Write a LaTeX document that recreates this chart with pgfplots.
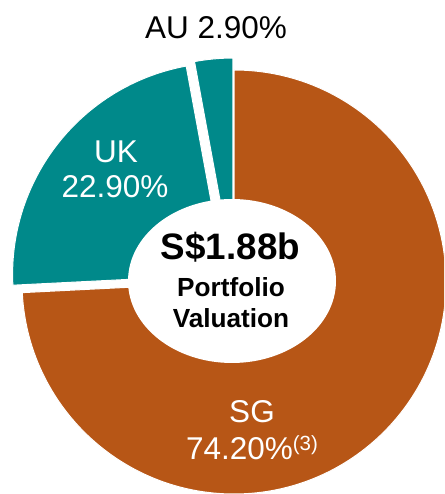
\documentclass[border=0pt]{standalone}
\usepackage{pgfplots}
\pgfplotsset{compat=1.18}
\usepackage{pgfplotstable}
\usepackage{fontspec}
\setmainfont{Liberation Sans}
\definecolor{sgc}{HTML}{B75616}
\definecolor{ukc}{HTML}{00898A}

% share in percent, explode offset in pt
\pgfplotstableread{
region share explode
SG 74.2 0
UK 22.9 12
AU 2.9 12
}\shares

\begin{document}
\begin{tikzpicture}
\pgfplotstablegetelem{0}{share}\of\shares \let\sSG\pgfplotsretval
\pgfplotstablegetelem{1}{share}\of\shares \let\sUK\pgfplotsretval
\pgfplotstablegetelem{2}{share}\of\shares \let\sAU\pgfplotsretval
\pgfplotstablegetelem{0}{explode}\of\shares \let\eSG\pgfplotsretval
\pgfplotstablegetelem{1}{explode}\of\shares \let\eUK\pgfplotsretval
\pgfplotstablegetelem{2}{explode}\of\shares \let\eAU\pgfplotsretval
\pgfmathsetmacro\aSG{90}
\pgfmathsetmacro\bSG{\aSG-3.6*\sSG}
\pgfmathsetmacro\bUK{\bSG-3.6*\sUK}
\pgfmathsetmacro\bAU{\bUK-3.6*\sAU}
\pgfmathsetmacro\mSG{(\aSG+\bSG)/2}
\pgfmathsetmacro\mUK{(\bSG+\bUK)/2}
\pgfmathsetmacro\mAU{(\bUK+\bAU)/2}
\begin{axis}[
    x=1pt, y=1pt,
    xmin=0, xmax=444, ymin=0, ymax=494,
    hide axis, clip=true,
]
\addplot[draw=none] coordinates {(0,0) (444,494)};
\fill[sgc, draw=white, line width=1pt] ([shift={(\mSG:\eSG pt)}]axis cs:234,212)
    -- ++(\aSG:212pt) arc[start angle=\aSG, end angle=\bSG, radius=212pt] -- cycle;
\fill[ukc, draw=white, line width=1pt] ([shift={(\mUK:\eUK pt)}]axis cs:234,212)
    -- ++(\bSG:212pt) arc[start angle=\bSG, end angle=\bUK, radius=212pt] -- cycle;
\fill[ukc, draw=white, line width=1pt] ([shift={(\mAU:\eAU pt)}]axis cs:234,212)
    -- ++(\bUK:212pt) arc[start angle=\bUK, end angle=\bAU, radius=212pt] -- cycle;
\fill[white] (axis cs:232,213) ellipse [x radius=104pt, y radius=82pt];

\node[anchor=base, font=\fontsize{31.5}{36}\selectfont] at (axis cs:216,455) {AU 2.90\%};
\node[anchor=base, white, font=\fontsize{31.5}{36}\selectfont] at (axis cs:116,331) {UK};
\node[anchor=base, white, font=\fontsize{31.5}{36}\selectfont] at (axis cs:115,296) {22.90\%};
\node[anchor=base, font=\bfseries\fontsize{36.8}{40}\selectfont] at (axis cs:230.5,234) {S\$1.88b};
\node[anchor=base, font=\bfseries\fontsize{26.2}{30}\selectfont] at (axis cs:231,197) {Portfolio};
\node[anchor=base, font=\bfseries\fontsize{26.2}{30}\selectfont] at (axis cs:231,166) {Valuation};
\node[anchor=base, white, font=\fontsize{31.5}{36}\selectfont] at (axis cs:252,71) {SG};
\node[anchor=base, white, font=\fontsize{31.5}{36}\selectfont] at (axis cs:252,34)
    {74.20\%\raisebox{10pt}{\fontsize{20.5}{24}\selectfont(3)}};
\end{axis}
\end{tikzpicture}
\end{document}
